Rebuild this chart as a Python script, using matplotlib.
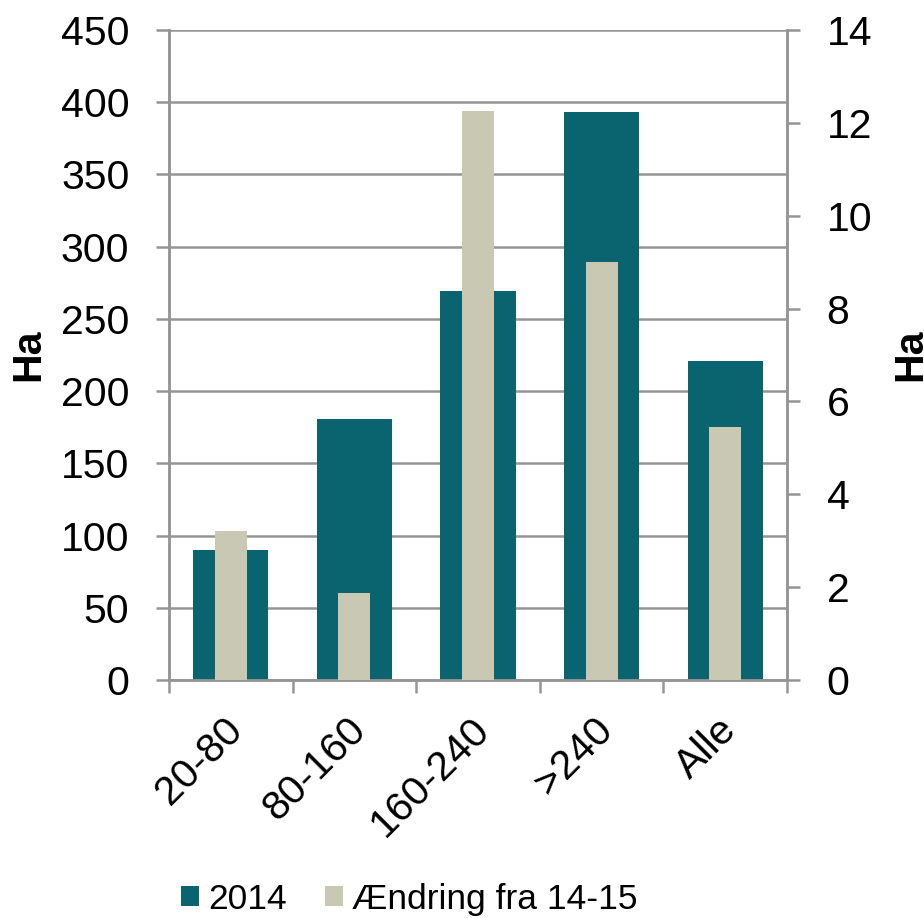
import numpy as np
import matplotlib.pyplot as plt
from matplotlib.transforms import ScaledTranslation

plt.rcParams['font.family'] = ['Liberation Sans', 'DejaVu Sans']

categories = ['20-80', '80-160', '160-240', '>240', 'Alle']
ha_2014 = [90, 181, 269, 393, 221]
change_14_15 = [3.2, 1.87, 12.25, 9.0, 5.45]

teal = '#0a6470'
beige = '#c8c8b3'
grey = '#959595'
fs = 29.5

fig = plt.figure(figsize=(9.24, 9.18), dpi=100)
ax1 = fig.add_axes([169 / 924, 1 - 680 / 918, 618 / 924, 650 / 918])
ax2 = ax1.twinx()

x = np.arange(len(categories))
ax1.bar(x, ha_2014, width=0.61, color=teal, zorder=2, label='2014')
ax2.bar(x, change_14_15, width=0.26, color=beige, zorder=3, label='Ændring fra 14-15')

ax1.set_xlim(-0.5, len(categories) - 0.5)
ax1.set_ylim(0, 450)
ax1.set_yticks(np.arange(0, 451, 50))
ax2.set_ylim(0, 14)
ax2.set_yticks(np.arange(0, 15, 2))

ax1.yaxis.grid(True, color=grey, linewidth=1.8, zorder=0)
ax1.set_axisbelow(True)

for ax in (ax1, ax2):
    for s in ax.spines.values():
        s.set_color(grey)
        s.set_linewidth(1.8)
    ax.spines['top'].set_visible(False)

ax1.set_xticks(x)
ax1.set_xticklabels(categories, rotation=45, ha='right', rotation_mode='anchor', fontsize=fs)
ax1.set_xticks(np.arange(-0.5, len(categories), 1), minor=True)
ax1.tick_params(axis='x', which='major', length=0, pad=22)
ax1.tick_params(axis='x', which='minor', length=9.5, width=1.8, color=grey)
ax1.tick_params(axis='y', labelsize=fs, length=9.5, width=1.8, color=grey, pad=19)
ax2.tick_params(axis='y', labelsize=fs, length=9.5, width=1.8, color=grey, pad=19)

# nudge rotated category labels slightly left
shift = ScaledTranslation(-8 / 100, 0, fig.dpi_scale_trans)
for lab in ax1.get_xticklabels():
    lab.set_transform(lab.get_transform() + shift)

ax1.set_ylabel('Ha', fontsize=fs, fontweight='bold', labelpad=10)
ax2.set_ylabel('Ha', fontsize=fs, fontweight='bold', labelpad=14)

h1, l1 = ax1.get_legend_handles_labels()
h2, l2 = ax2.get_legend_handles_labels()
fig.legend(h1 + h2, l1 + l2, loc='lower center', bbox_to_anchor=(0.443, -0.032),
           ncol=2, frameon=False, fontsize=25.5, handlelength=0.5, handleheight=0.5,
           handletextpad=0.25, columnspacing=1.1)

fig.savefig('out.png', dpi=100)
